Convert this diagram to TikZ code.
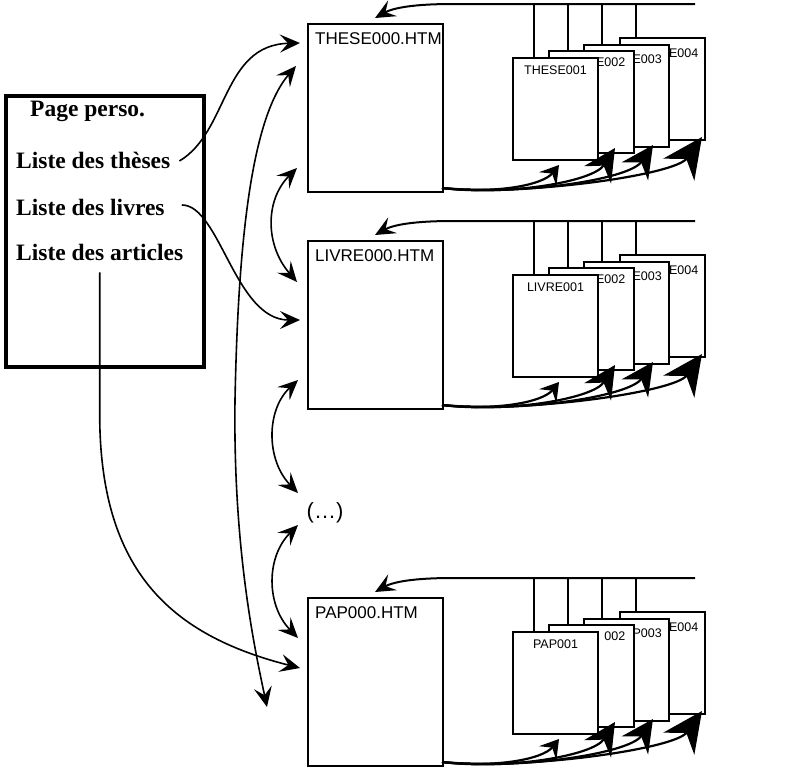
\documentclass[tikz,border=0pt]{standalone}
\usepackage{fontspec}
\setmainfont{Liberation Serif}
\setsansfont{Liberation Sans}
\usetikzlibrary{arrows.meta}

\tikzset{
  spitze/.tip={Stealth[length=20pt,width=18pt,inset=8pt]},
  haupt/.style={draw, line width=2.6pt, minimum width=135pt, minimum height=168pt, inner sep=0pt, outer sep=0pt, anchor=north west},
  blatt/.style={draw, line width=2pt, fill=white, minimum width=85pt, minimum height=102pt, inner sep=0pt, outer sep=0pt, anchor=north west},
  lien/.style={line width=1.6pt, -spitze},
  doppel/.style={line width=1.6pt, spitze-spitze},
}

\begin{document}
\begin{tikzpicture}[x=1pt, y=-1pt]
  \useasboundingbox (0,0) rectangle (785,769);

  % Page perso
  \node[draw, line width=4pt, minimum width=198pt, minimum height=271pt, inner sep=0pt, anchor=north west] (perso) at (4,94) {};
  \begin{scope}[every node/.style={font=\bfseries\fontsize{23.5}{27}\selectfont, inner sep=0pt, anchor=base west}]
    \node (titre) at (30,116) {Page perso.};
    \node (theses) at (16,168) {Liste des thèses};
    \node (livres) at (16,215) {Liste des livres};
    \node (articles) at (16,260) {Liste des articles};
  \end{scope}

  % THESE, LIVRE, PAP
  \foreach \Y/\pre/\nom/\ii/\iii/\iv in {24/THESE/these/E002/E003/E004, 241/LIVRE/livre/E002/E003/E004, 598/PAP/pap/002/P003/E004} {
    \coordinate (\nom-bus) at (695,\Y-20);
    \foreach \k/\dx/\dy/\lx in {4/311.5/14.2/328, 3/276/20.8/294, 2/240.5/27.4/260, 1/205/34/226} {
      \node[blatt] (\pre\k) at (308+\dx,\Y+\dy) {};
      \coordinate (\pre\k-fil) at ([shift={(\lx-\dx,0)}]\pre\k.north west);
      \draw[line width=2pt] (\pre\k-fil) -- (\pre\k-fil |- \nom-bus);
    }
    \begin{scope}[every node/.style={font=\sffamily\fontsize{12.5}{14}\selectfont, inner sep=0pt, anchor=east}]
      \node (\pre4-titre) at ([shift={(-6,15)}]\pre4.north east) {\iv};
      \node (\pre3-titre) at ([shift={(-7,14)}]\pre3.north east) {\iii};
      \node (\pre2-titre) at ([shift={(-8,11)}]\pre2.north east) {\ii};
    \end{scope}
    \node[font=\sffamily\fontsize{12.5}{14}\selectfont, inner sep=0pt] (\pre1-titre) at ([shift={(0,12)}]\pre1.north) {\pre001};
    \node[haupt] (\nom) at (308,\Y) {};
    \node[font=\sffamily\fontsize{17}{20}\selectfont, inner sep=0pt, anchor=west] (\nom-titre) at ([shift={(7,14.5)}]\nom.north west) {\pre000.HTM};
    \coordinate (\nom-s) at ([shift={(-1,-4)}]\nom.south east);
    \draw[lien, line width=2pt] (\nom-bus) -- ++(-242,0) .. controls +(-40,0) and +(18,-10) .. ([shift={(67,-6)}]\nom.north west);

    \draw[line width=2.2pt, -{Stealth[length=18pt,width=22pt,inset=7pt]}] (\nom-s) .. controls +(55,6) and +(-16,20) .. ([shift={(46,5)}]\pre1.south west);
    \draw[line width=2.2pt, -{Stealth[length=32pt,width=32pt,inset=11pt]}] (\nom-s) .. controls +(65,8) and +(-22,34) .. ([shift={(66.5,-5.4)}]\pre2.south west);
    \draw[line width=2.2pt, -{Stealth[length=32pt,width=32pt,inset=11pt]}] (\nom-s) .. controls +(75,8) and +(-24,35) .. ([shift={(69,-1.8)}]\pre3.south west);
    \draw[line width=2.2pt, -{Stealth[length=40pt,width=38pt,inset=13pt]}] (\nom-s) .. controls +(85,8) and +(-27,38) .. ([shift={(82.5,-3.2)}]\pre4.south west);
  }

  \node[font=\sffamily\fontsize{22}{26}\selectfont, inner sep=0pt] (etc) at (325,513) {(…)};

  % liens depuis la page perso
  \draw[lien] ([shift={(9,1)}]theses.east) .. controls +(49,-29) and +(-78,2) .. ([shift={(-8,19)}]these.north west);
  \draw[lien] ([shift={(17,-2)}]livres.east) .. controls +(38,0) and +(-65,0) .. ([shift={(-8,79)}]livre.north west);
  \draw[lien] ([shift={(0,12)}]articles.south) -- ++(0,148) .. controls +(2,150) and +(-130,-33) .. ([shift={(-8,70)}]pap.north west);

  % liens entre les pages
  \draw[doppel] ([shift={(-12,42)}]these.north west) .. controls +(-46,54) and +(3,-150) .. (235,400) .. controls +(-2,150) and +(-12,-57) .. ([shift={(-41,109)}]pap.north west);
  \draw[doppel] ([shift={(-11,144)}]these.north west) .. controls +(-32,32) and +(-32,-37) .. ([shift={(-11,41)}]livre.north west);
  \draw[doppel] ([shift={(-10,139)}]livre.north west) .. controls +(-32,30) and +(-32,-33) .. ([shift={(-27,-20)}]etc.center);
  \draw[doppel] ([shift={(-27,12)}]etc.center) .. controls +(-32,32) and +(-32,-33) .. ([shift={(-10,40)}]pap.north west);
\end{tikzpicture}
\end{document}
